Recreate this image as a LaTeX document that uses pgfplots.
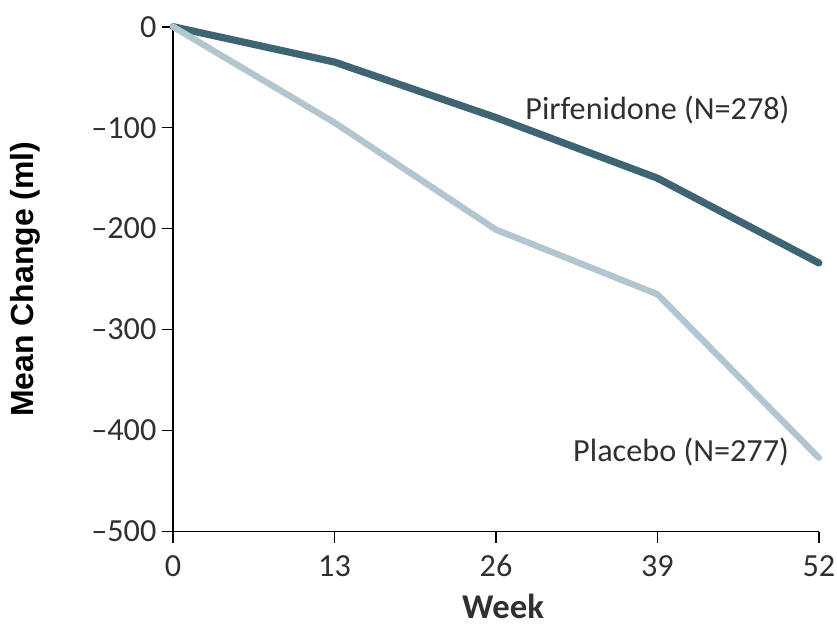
\documentclass[border=0pt]{standalone}
\usepackage{pgfplots}
\pgfplotsset{compat=1.18}
\usepackage{fontspec}
\setmainfont{Carlito}
\newfontfamily\labelfont{Liberation Sans}

\definecolor{pirf}{HTML}{3F6574}
\definecolor{plac}{HTML}{B3C6D0}
\definecolor{txt}{HTML}{303030}

\begin{document}
\begin{tikzpicture}
\begin{axis}[
  scale only axis,
  width=232.6pt, height=181.8pt,
  xmin=0, xmax=52, ymin=-500, ymax=0,
  axis lines=left,
  axis line style={black, line width=0.55pt, -},
  xtick={0,13,26,39,52},
  ytick={-500,-400,-300,-200,-100,0},
  yticklabels={\textendash500,\textendash400,\textendash300,\textendash200,\textendash100,0},
  tick align=outside,
  major tick length=4pt,
  tick style={black, line width=0.55pt},
  /pgf/number format/assume math mode=true,
  ticklabel style={font=\fontsize{11.6}{13}\selectfont, text=txt},
  xticklabel style={yshift=-1pt},
  yticklabel style={xshift=1.5pt},
  xlabel={\textbf{Week}},
  ylabel={\labelfont\bfseries Mean Change (ml)},
  xlabel style={font=\fontsize{12.5}{15}\selectfont, text=txt,
    at={(rel axis cs:0.511,-0.148)}, anchor=center},
  ylabel style={font=\fontsize{11.5}{14}\selectfont, text=black,
    at={(rel axis cs:-0.229,0.5)}, anchor=center},
  clip=false,
]
% Pirfenidone group
\addplot[pirf, line width=2.6pt, line cap=round, line join=round]
  coordinates {(0,0) (13,-35) (26,-90) (39,-150) (52,-234)};
% Placebo group
\addplot[plac, line width=2.3pt, line cap=round, line join=round]
  coordinates {(0,0) (13,-95) (26,-201) (39,-265) (52,-427)};

\node[font=\fontsize{11.6}{14}\selectfont, text=txt] at (axis cs:39.0,-82) {Pirfenidone (N=278)};
\node[font=\fontsize{11.6}{14}\selectfont, text=txt] at (axis cs:40.9,-421) {Placebo (N=277)};

\coordinate (bl) at (rel axis cs:-0.268,-0.206);
\coordinate (tr) at (rel axis cs:1.028,1.053);
\end{axis}
\pgfresetboundingbox
\path[use as bounding box] (bl) rectangle (tr);
\end{tikzpicture}
\end{document}
